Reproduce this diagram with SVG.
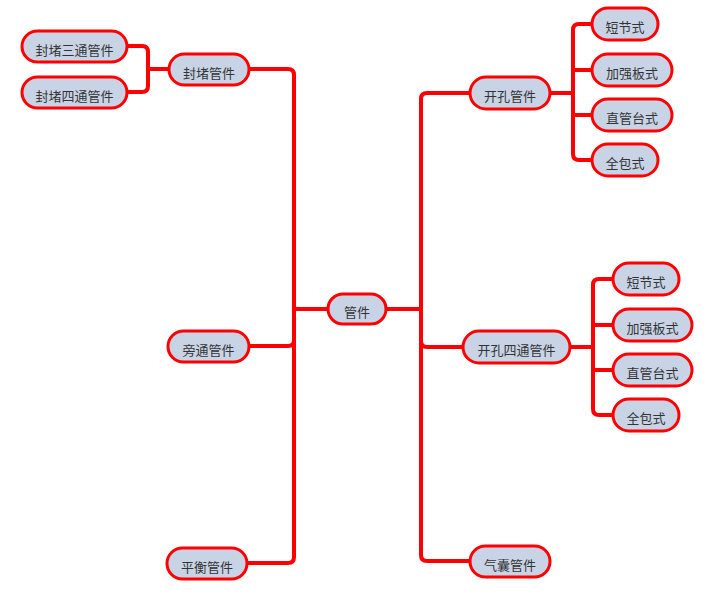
<svg xmlns="http://www.w3.org/2000/svg" width="711" height="604" viewBox="0 0 711 604">
<style>
.n rect{fill:#C9D3E6;stroke:#FF0000;stroke-width:3}
.n text{font-family:"Noto Sans CJK SC","Noto Sans",sans-serif;font-size:13px;fill:#333;text-anchor:middle;dominant-baseline:central}
#edges path{fill:none;stroke:#FF0000;stroke-width:4;stroke-linejoin:round}
</style>
<rect width="711" height="604" fill="#fff"/>
<g id="edges">
<path d="M328,309 H294 V75 Q294,69 288,69 H249"/>
<path d="M328,309 H294 V340 Q294,346 288,346 H249"/>
<path d="M328,309 H294 V557 Q294,563 288,563 H247"/>
<path d="M386,309 H421 V99 Q421,93 427,93 H470"/>
<path d="M386,309 H421 V341 Q421,347 427,347 H463"/>
<path d="M386,309 H421 V555 Q421,561 427,561 H470"/>
<path d="M169,69 H148 V52 Q148,46 142,46 H127"/>
<path d="M169,69 H148 V86 Q148,92 142,92 H127"/>
<path d="M550,93 H573 V30 Q573,24 579,24 H592"/>
<path d="M550,93 H573 V70 H592"/>
<path d="M550,93 H573 V115 H592"/>
<path d="M550,93 H573 V154 Q573,160 579,160 H592"/>
<path d="M570,347 H593 V285 Q593,279 599,279 H613"/>
<path d="M570,347 H593 V325 H613"/>
<path d="M570,347 H593 V370 H613"/>
<path d="M570,347 H593 V409 Q593,415 599,415 H613"/>
</g>
<g id="root" class="n"><rect x="328" y="294" width="58" height="30" rx="15"/><text x="357" y="311.5">管件</text></g>
<g id="fengdu" class="n"><rect x="169" y="54" width="80" height="31" rx="15.5"/><text x="209" y="72.5">封堵管件</text></g>
<g id="fengdu3" class="n"><rect x="22" y="31" width="105" height="31" rx="15.5"/><text x="74.5" y="49.5">封堵三通管件</text></g>
<g id="fengdu4" class="n"><rect x="22" y="77" width="105" height="31" rx="15.5"/><text x="74.5" y="95.5">封堵四通管件</text></g>
<g id="pangtong" class="n"><rect x="168" y="331" width="81" height="31" rx="15.5"/><text x="208.5" y="349.5">旁通管件</text></g>
<g id="pingheng" class="n"><rect x="167" y="548" width="80" height="31" rx="15.5"/><text x="207" y="566.5">平衡管件</text></g>
<g id="qinang" class="n"><rect x="470" y="546" width="80" height="31" rx="15.5"/><text x="510" y="564.5">气囊管件</text></g>
<g id="kaikong" class="n"><rect x="470" y="77" width="80" height="32" rx="16"/><text x="510" y="95.5">开孔管件</text></g>
<g id="k1" class="n"><rect x="592" y="8" width="66" height="32" rx="16"/><text x="625" y="26.5">短节式</text></g>
<g id="k2" class="n"><rect x="592" y="54" width="80" height="32" rx="16"/><text x="632" y="72.5">加强板式</text></g>
<g id="k3" class="n"><rect x="592" y="99" width="80" height="32" rx="16"/><text x="632" y="117.5">直管台式</text></g>
<g id="k4" class="n"><rect x="592" y="144" width="66" height="32" rx="16"/><text x="625" y="162.5">全包式</text></g>
<g id="kaikong4" class="n"><rect x="463" y="331" width="107" height="32" rx="16"/><text x="516.5" y="349.5">开孔四通管件</text></g>
<g id="m1" class="n"><rect x="613" y="263" width="66" height="32" rx="16"/><text x="646" y="281.5">短节式</text></g>
<g id="m2" class="n"><rect x="613" y="309" width="79" height="32" rx="16"/><text x="652.5" y="327.5">加强板式</text></g>
<g id="m3" class="n"><rect x="613" y="354" width="79" height="32" rx="16"/><text x="652.5" y="372.5">直管台式</text></g>
<g id="m4" class="n"><rect x="613" y="399" width="66" height="32" rx="16"/><text x="646" y="417.5">全包式</text></g>
</svg>
